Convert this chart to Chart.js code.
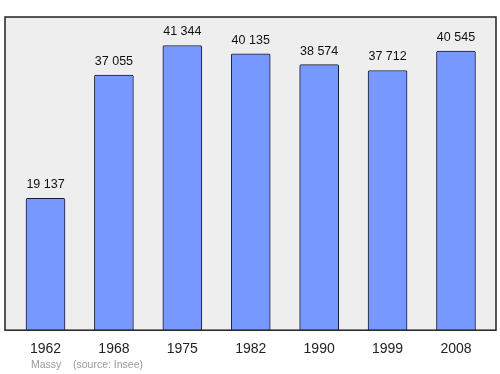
<!DOCTYPE html>
<html><head><meta charset="utf-8">
<script src="https://cdn.jsdelivr.net/npm/chart.js@4/dist/chart.umd.min.js"></script>
<style>html,body{margin:0;padding:0;background:#fff}#w{width:500px;height:374px}</style>
</head><body><div id="w"><canvas id="c"></canvas></div>
<script>
const years = ['1962','1968','1975','1982','1990','1999','2008'];
const population = [19137, 37055, 41344, 40135, 38574, 37712, 40545];
const valueLabels = ['19 137','37 055','41 344','40 135','38 574','37 712','40 545'];
const footerPlace = 'Massy';
const footerSource = '(source: Insee)';

const FONT = '"Liberation Sans", Arial, sans-serif';

const plotBg = {
  id: 'plotBg',
  beforeDraw(chart) {
    const {ctx, chartArea: a} = chart;
    ctx.save();
    ctx.fillStyle = '#eeeeee';
    ctx.fillRect(a.left, a.top, a.right - a.left, a.bottom - a.top);
    ctx.restore();
  },
  afterDatasetsDraw(chart) {
    const {ctx, chartArea: a} = chart;
    ctx.save();
    ctx.strokeStyle = '#222';
    ctx.lineWidth = 1.5;
    ctx.strokeRect(a.left, a.top, a.right - a.left, a.bottom - a.top);
    const meta = chart.getDatasetMeta(0);
    ctx.fillStyle = '#111';
    ctx.font = '12.5px ' + FONT;
    ctx.textAlign = 'center';
    ctx.textBaseline = 'alphabetic';
    meta.data.forEach((el, i) => {
      ctx.fillText(valueLabels[i], el.x, el.y - 10);
    });
    ctx.fillStyle = '#999';
    ctx.font = '10.5px ' + FONT;
    ctx.textAlign = 'left';
    ctx.fillText(footerPlace, 31, 368);
    ctx.fillText(footerSource, 73, 368);
    ctx.restore();
  }
};

new Chart(document.getElementById('c'), {
  type: 'bar',
  data: {
    datasets: [{
      data: population.map((v, i) => ({x: i, y: v})),
      backgroundColor: '#7799ff',
      borderColor: '#1a1a33',
      borderWidth: 1,
      borderSkipped: 'bottom',
      borderRadius: 1.5,
      barThickness: 39
    }]
  },
  options: {
    responsive: true,
    maintainAspectRatio: false,
    animation: false,
    devicePixelRatio: 1,
    layout: {padding: {left: 5, top: 17, right: 4, bottom: 5}},
    plugins: {legend: {display: false}, tooltip: {enabled: false}},
    scales: {
      x: {
        type: 'linear',
        offset: false,
        min: -0.592,
        max: 6.585,
        grid: {display: false, drawTicks: false},
        border: {display: false},
        afterBuildTicks(scale) { scale.ticks = years.map((y, i) => ({value: i})); },
        ticks: {
          autoSkip: false,
          maxRotation: 0,
          padding: 11,
          color: '#222',
          font: {family: FONT, size: 14},
          callback: (v) => years[v]
        }
      },
      y: {
        display: false,
        min: 0,
        max: 45478
      }
    }
  },
  plugins: [plotBg]
});
</script>
</body></html>
